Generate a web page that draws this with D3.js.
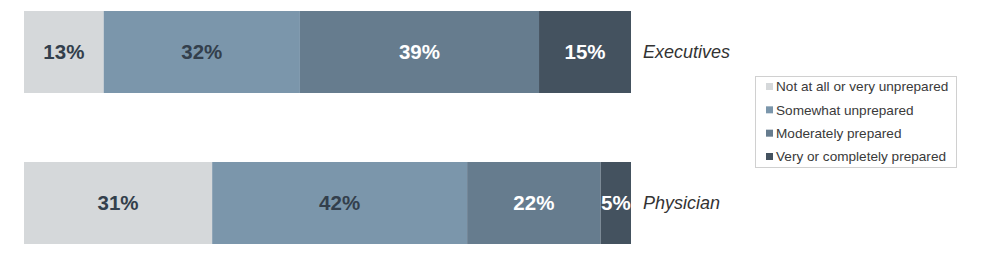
<!DOCTYPE html>
<html><head><meta charset="utf-8">
<script src="https://cdn.jsdelivr.net/npm/d3@7"></script>
<style>body{margin:0;background:#fff;}svg{display:block;font-family:"Liberation Sans",Arial,sans-serif;}</style>
</head><body>
<svg id="c" width="1003" height="263"></svg>
<script>
const categories = ["Executives", "Physician"];
const seriesNames = ["Not at all or very unprepared", "Somewhat unprepared", "Moderately prepared", "Very or completely prepared"];
const executives = [13, 32, 39, 15];
const physician = [31, 42, 22, 5];
const rows = [executives, physician];
const colors = ["#d5d8da", "#7b96ab", "#667c8e", "#44525f"];
const labelColors = ["#333f4c", "#333f4c", "#ffffff", "#ffffff"];

const svg = d3.select("#c");
const y = d3.scaleBand().domain(categories).range([11, 244]).paddingInner(0.457).paddingOuter(0);

categories.forEach((cat, i) => {
  const vals = rows[i];
  const total = d3.sum(vals);
  const x = d3.scaleLinear().domain([0, total]).range([24, 631]);
  const cum = d3.cumsum(vals);
  const segs = vals.map((v, j) => ({v, j, x0: cum[j] - v, x1: cum[j]}));
  const g = svg.append("g");
  g.selectAll("rect").data(segs).join("rect")
    .attr("x", d => x(d.x0)).attr("width", d => x(d.x1) - x(d.x0))
    .attr("y", y(cat)).attr("height", y.bandwidth())
    .attr("fill", d => colors[d.j]);
  g.selectAll("text.v").data(segs).join("text").attr("class", "v")
    .attr("x", d => (x(d.x0) + x(d.x1)) / 2)
    .attr("y", y(cat) + y.bandwidth() / 2)
    .attr("dy", "0.36em").attr("text-anchor", "middle")
    .attr("font-size", 20.5).attr("font-weight", "bold")
    .attr("fill", d => labelColors[d.j])
    .text(d => d.v + "%");
  g.append("text").attr("x", 643).attr("y", y(cat) + y.bandwidth() / 2)
    .attr("dy", "0.36em").attr("font-size", 18).attr("font-style", "italic")
    .attr("fill", "#333").text(cat);
});

const lg = svg.append("g");
lg.append("rect").attr("x", 755.5).attr("y", 76.5).attr("width", 201).attr("height", 91)
  .attr("fill", "#fff").attr("stroke", "#d0d0d0");
const ly = d3.scalePoint().domain(seriesNames).range([86.5, 156.5]);
seriesNames.forEach((n, j) => {
  lg.append("rect").attr("x", 766).attr("y", ly(n) - 3.5).attr("width", 7).attr("height", 7).attr("fill", colors[j]);
  lg.append("text").attr("x", 776).attr("y", ly(n)).attr("dy", "0.36em")
    .attr("font-size", 13.6).attr("fill", "#3a3a3a").text(n);
});
</script>
</body></html>
